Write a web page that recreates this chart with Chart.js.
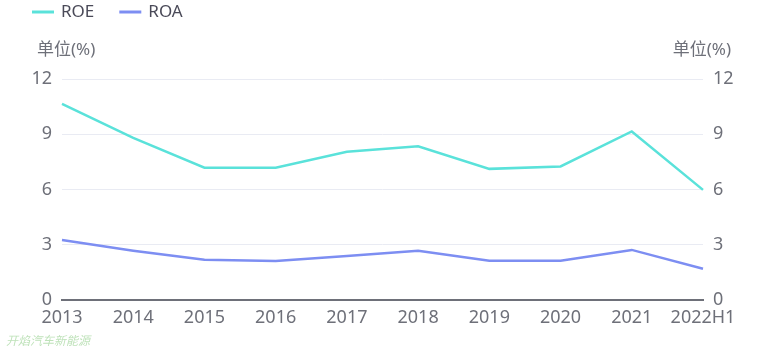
<!DOCTYPE html>
<html>
<head>
<meta charset="utf-8">
<script src="https://cdn.jsdelivr.net/npm/chart.js@4/dist/chart.umd.min.js"></script>
<style>
  html, body { margin: 0; padding: 0; background: #fff; }
  #wrap { position: relative; width: 765px; height: 351px; }
</style>
</head>
<body>
<div id="wrap"><canvas id="c" width="765" height="351"></canvas></div>
<script>
const years = ['2013', '2014', '2015', '2016', '2017', '2018', '2019', '2020', '2021', '2022H1'];
const roe = [10.65, 8.8, 7.18, 7.18, 8.05, 8.35, 7.12, 7.25, 9.15, 5.98];
const roa = [3.26, 2.68, 2.18, 2.12, 2.39, 2.68, 2.13, 2.13, 2.72, 1.7];
const yTicks = [0, 3, 6, 9, 12];
const unitLabel = '单位(%)';
const watermark = '开焰汽车新能源';

const FONT = '"Noto Sans", "Noto Sans CJK SC", sans-serif';
const GREY = '#6e7079';

// legend, unit titles and watermark drawn on the canvas
const extras = {
  id: 'extras',
  afterDraw(chart) {
    const ctx = chart.ctx;
    ctx.save();
    ctx.font = '17px ' + FONT;
    ctx.textBaseline = 'middle';
    let x = 32;
    chart.data.datasets.forEach(ds => {
      ctx.strokeStyle = ds.borderColor;
      ctx.lineWidth = 3;
      ctx.beginPath();
      ctx.moveTo(x, 12);
      ctx.lineTo(x + 22, 12);
      ctx.stroke();
      ctx.fillStyle = '#4a4a58';
      ctx.textAlign = 'left';
      ctx.fillText(ds.label, x + 29, 12);
      x += 29 + ctx.measureText(ds.label).width + 25;
    });

    ctx.fillStyle = GREY;
    ctx.textAlign = 'left';
    ctx.fillText(unitLabel, 37, 50);
    ctx.textAlign = 'right';
    ctx.fillText(unitLabel, 731, 50);

    ctx.font = 'italic 12px ' + FONT;
    ctx.textAlign = 'left';
    ctx.fillStyle = 'rgba(110, 190, 100, 0.45)';
    ctx.fillText(watermark, 6, 342);
    ctx.restore();
  }
};

const yCommon = (pos) => ({
  type: 'linear',
  position: pos,
  min: 0,
  max: 12,
  afterBuildTicks: s => { s.ticks = yTicks.map(v => ({ value: v })); },
  afterFit: s => { s.width = 62; },
  ticks: { color: GREY, font: { size: 18, family: FONT }, padding: 10 },
  grid: { display: pos === 'left', color: '#e9ebf3', lineWidth: 1, drawTicks: false },
  border: { display: false }
});

new Chart(document.getElementById('c'), {
  type: 'line',
  data: {
    labels: years,
    datasets: [
      { label: 'ROE', data: roe, yAxisID: 'y', borderColor: '#5ae2da', borderWidth: 2.5, pointRadius: 0, tension: 0 },
      { label: 'ROA', data: roa, yAxisID: 'y', borderColor: '#7d8ef2', borderWidth: 2.5, pointRadius: 0, tension: 0 }
    ]
  },
  options: {
    responsive: false,
    animation: false,
    layout: { padding: { top: 79, left: 0, right: 0, bottom: 0 } },
    plugins: { legend: { display: false }, tooltip: { enabled: false } },
    scales: {
      x: {
        offset: false,
        afterFit: s => { s.height = 51; },
        ticks: { color: GREY, font: { size: 18, family: FONT }, padding: 7, maxRotation: 0, autoSkip: false },
        grid: { display: false, drawTicks: false },
        border: { display: true, color: '#6e7079', width: 2 }
      },
      y: yCommon('left'),
      y2: yCommon('right')
    }
  },
  plugins: [extras]
});
</script>
</body>
</html>
